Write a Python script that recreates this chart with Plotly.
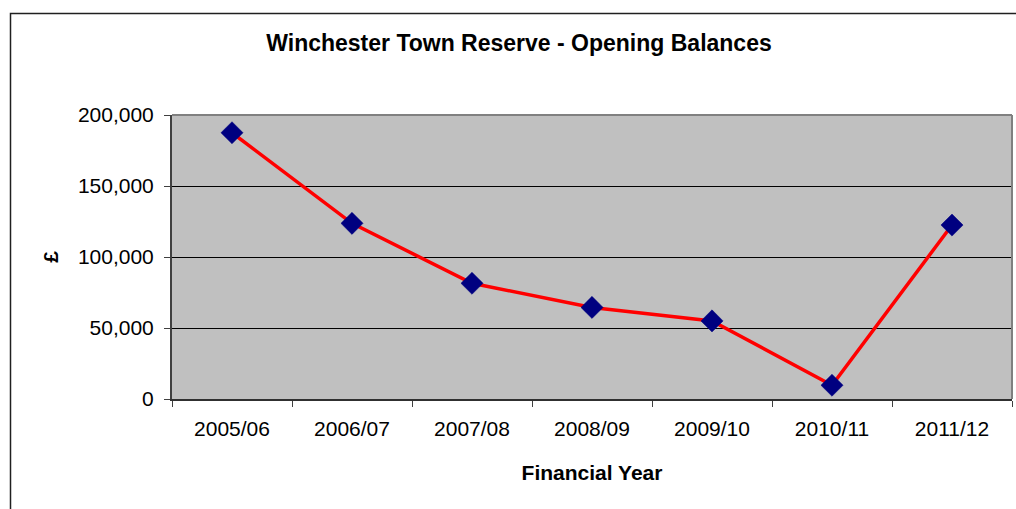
import plotly.graph_objects as go

years = ["2005/06", "2006/07", "2007/08", "2008/09", "2009/10", "2010/11", "2011/12"]
balances = [187500, 123700, 81500, 64500, 55000, 9700, 122500]
y_ticks = [0, 50000, 100000, 150000, 200000]

FONT = "Liberation Sans, Arial, sans-serif"

fig = go.Figure()
fig.add_trace(go.Scatter(
    x=years, y=balances, mode="lines+markers",
    line=dict(color="#FF0000", width=3.5),
    marker=dict(symbol="diamond", size=17, color="#000080",
                line=dict(color="#000080", width=0.5)),
    showlegend=False, hoverinfo="x+y",
))

L, R, T, B = 172, 4, 115, 110
W, H = 1016, 509
pw, ph = W - L - R, H - T - B

def px_to_paper_x(px):
    return (px - L) / pw

def px_to_paper_y(py):
    return (H - B - py) / ph

fig.update_layout(
    width=W, height=H,
    margin=dict(l=L, r=R, t=T, b=B),
    paper_bgcolor="white",
    plot_bgcolor="#C0C0C0",
    font=dict(family=FONT, color="black", size=21),
    title=dict(text="<b>Winchester Town Reserve - Opening Balances</b>",
               x=px_to_paper_x(519), xref="paper", xanchor="center",
               y=1 - 43 / H, yref="container", yanchor="middle",
               font=dict(size=23, family=FONT, color="black")),
    xaxis=dict(
        type="category", range=[-0.5, 6.5],
        tickson="boundaries", ticks="outside", ticklen=6, tickwidth=1,
        tickcolor="#404040",
        showline=True, linecolor="#303030", linewidth=1.5,
        showgrid=False,
        tickfont=dict(size=21, family=FONT),
        ticklabelstandoff=10,
        title=dict(text="<b>Financial Year</b>", font=dict(size=21, family=FONT), standoff=26),
    ),
    yaxis=dict(
        range=[0, 200000], tickvals=y_ticks, tickformat=",",
        ticks="outside", ticklen=6, tickwidth=1, tickcolor="#404040",
        showline=True, linecolor="#404040", linewidth=2,
        showgrid=True, gridcolor="black", gridwidth=1,
        zeroline=False,
        tickfont=dict(size=21, family=FONT),
        ticklabelstandoff=6,
        title=dict(text="<b>£</b>", font=dict(size=21, family=FONT), standoff=14),
    ),
    shapes=[
        dict(type="line", xref="paper", yref="paper", x0=0, x1=1, y0=1, y1=1,
             line=dict(color="#808080", width=2), layer="above"),
        dict(type="line", xref="paper", yref="paper", x0=1, x1=1, y0=0, y1=1,
             line=dict(color="#808080", width=2), layer="above"),
        dict(type="rect", xref="paper", yref="paper",
             x0=px_to_paper_x(10.5), x1=px_to_paper_x(1100),
             y0=px_to_paper_y(560), y1=px_to_paper_y(13.5),
             line=dict(color="#202020", width=1.5), layer="below"),
    ],
)

fig.write_html("out.html")
